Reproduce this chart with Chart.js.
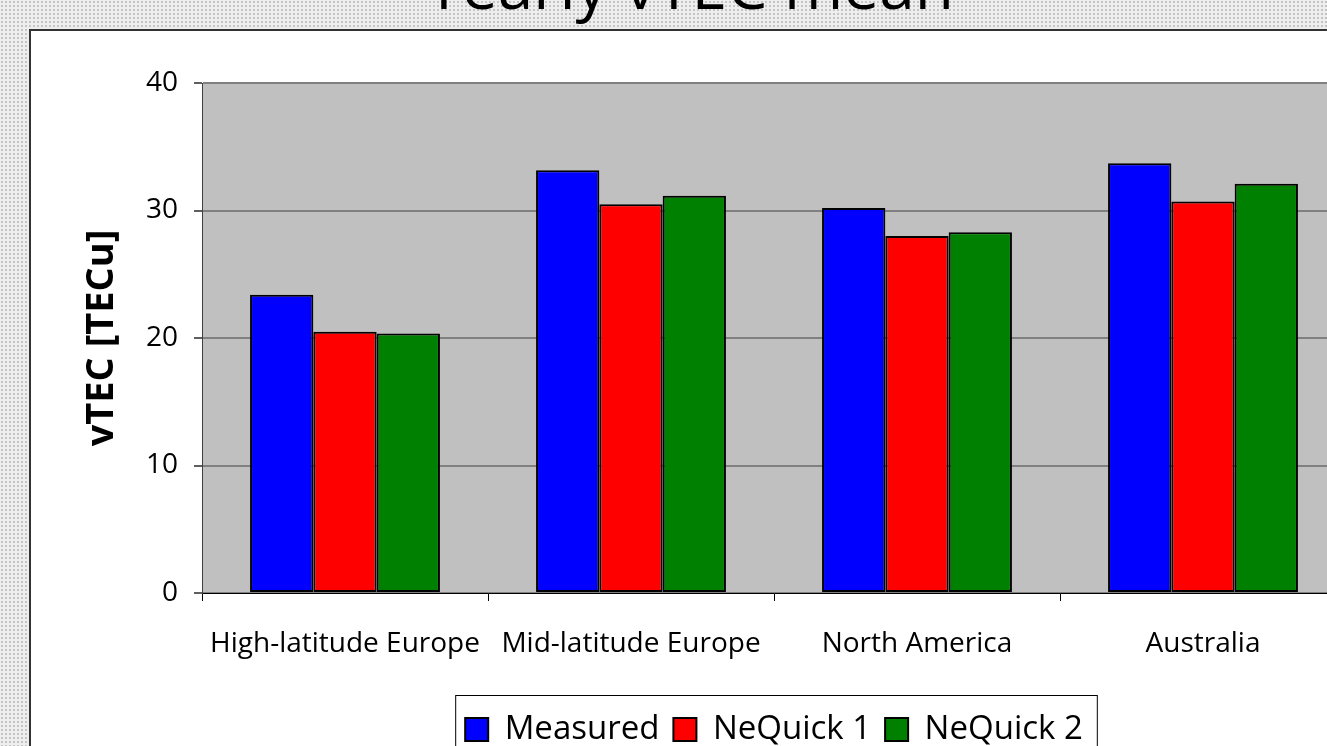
<!DOCTYPE html>
<html>
<head>
<meta charset="utf-8">
<script src="https://cdn.jsdelivr.net/npm/chart.js@4.4.0/dist/chart.umd.min.js"></script>
<style>
    html, body { margin: 0; padding: 0; width: 1327px; height: 746px; overflow: hidden; }
    body {
        position: relative;
        background-color: #eeeeee;
        background-image: radial-gradient(#c4c4c4 0.9px, transparent 1px);
        background-size: 4px 4px;
        font-family: "Open Sans", sans-serif;
    }
    #slideTitle {
        position: absolute; left: 0; width: 1380px; top: -47px;
        text-align: center; font-size: 64px; line-height: 1; color: #000;
    }
    #chartBox {
        position: absolute; left: 29px; top: 29px;
        width: 1330px; height: 725px;
        background: #fff; border: 2px solid #333;
    }
</style>
</head>
<body>
<div id="slideTitle">Yearly vTEC mean</div>
<div id="chartBox"><canvas id="vtecChart"></canvas></div>
<script>
const categories = ['High-latitude Europe', 'Mid-latitude Europe', 'North America', 'Australia'];
const measured = [23.4, 33.15, 30.2, 33.7];
const neQuick1 = [20.5, 30.5, 28.0, 30.7];
const neQuick2 = [20.35, 31.15, 28.3, 32.1];
const yTicks = [0, 10, 20, 30, 40];

// grey plot area + bordered legend like the Excel original
const plotBg = {
    id: 'plotBg',
    beforeDraw(chart) {
        const { ctx, chartArea: a } = chart;
        ctx.save();
        ctx.fillStyle = '#c0c0c0';
        ctx.fillRect(a.left, a.top, a.right - a.left, a.bottom - a.top);
        ctx.restore();
    },
    afterDraw(chart) {
        const lg = chart.legend;
        if (!lg || !lg.legendHitBoxes.length) return;
        const boxes = lg.legendHitBoxes;
        const last = boxes[boxes.length - 1];
        const x1 = boxes[0].left - 10;
        const x2 = last.left + last.width + 14;
        const y1 = lg.top - 4;
        const ctx = chart.ctx;
        ctx.save();
        ctx.strokeStyle = '#000';
        ctx.lineWidth = 1;
        ctx.strokeRect(x1 + 0.5, y1 + 0.5, x2 - x1, lg.bottom + 20 - y1);
        ctx.restore();
    }
};

new Chart(document.getElementById('vtecChart'), {
    type: 'bar',
    data: {
        labels: categories,
        datasets: [
            { label: 'Measured', data: measured, backgroundColor: '#0000ff' },
            { label: 'NeQuick 1', data: neQuick1, backgroundColor: '#ff0000' },
            { label: 'NeQuick 2', data: neQuick2, backgroundColor: '#008000' }
        ]
    },
    options: {
        responsive: true,
        maintainAspectRatio: false,
        animation: false,
        layout: { padding: { top: 52, right: 15, left: 0, bottom: 0 } },
        datasets: {
            bar: {
                categoryPercentage: 0.664,
                barPercentage: 1.0,
                borderColor: '#000',
                borderWidth: 2,
                borderSkipped: false
            }
        },
        plugins: {
            tooltip: { enabled: false },
            legend: {
                position: 'bottom',
                fullSize: false,
                labels: {
                    color: '#000',
                    font: { family: 'Open Sans', size: 33 },
                    boxWidth: 23,
                    boxHeight: 23,
                    padding: 14
                }
            }
        },
        scales: {
            x: {
                afterFit: s => { s.height = 106; },
                border: { color: '#000', width: 1 },
                grid: { display: true, drawOnChartArea: false, offset: true, tickLength: 8, tickColor: '#000' },
                ticks: { color: '#000', padding: 26, maxRotation: 0, font: { family: 'Open Sans', size: 28 } }
            },
            y: {
                min: 0,
                max: 40,
                afterFit: s => { s.width = 171; },
                afterBuildTicks: s => { s.ticks = yTicks.map(v => ({ value: v })); },
                border: { color: '#404040', width: 1 },
                grid: { color: '#808080', lineWidth: 2, tickLength: 8, tickColor: '#606060' },
                ticks: { color: '#000', padding: 16, font: { family: 'Open Sans', size: 28 } },
                title: {
                    display: true,
                    text: 'vTEC [TECu]',
                    color: '#000',
                    font: { family: 'Open Sans', size: 38, weight: 'bold' },
                    padding: { top: 48, bottom: 0 }
                }
            }
        }
    },
    plugins: [plotBg]
});
</script>
</body>
</html>
